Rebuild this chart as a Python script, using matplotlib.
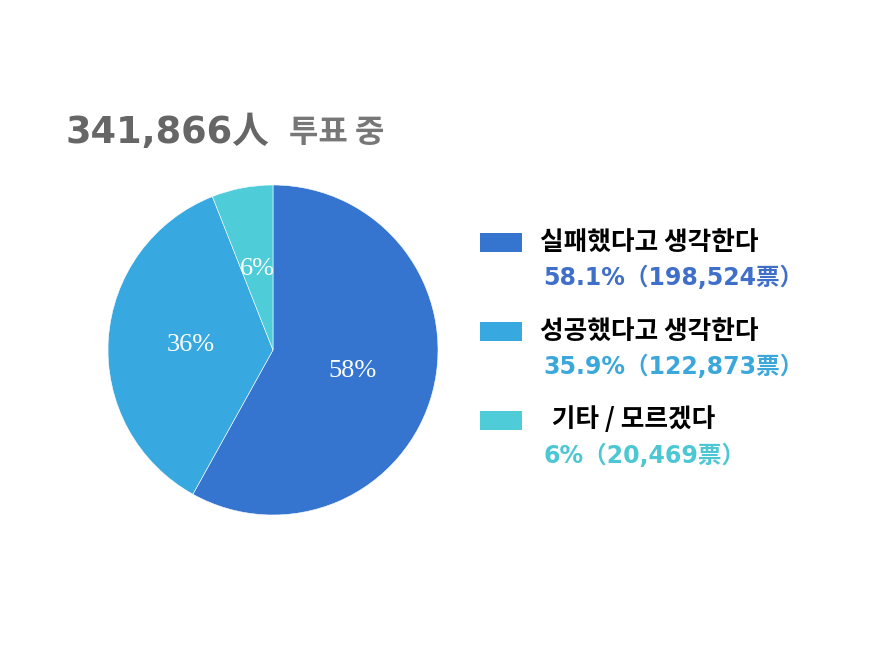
import matplotlib
matplotlib.use("Agg")
import matplotlib.pyplot as plt
from matplotlib.patches import Rectangle

# data
categories = ["실패했다고 생각한다", "성공했다고 생각한다", "  기타 / 모르겠다"]
votes = [198524, 122873, 20469]
share_text = ["58.1%", "35.9%", "6%"]
colors = ["#3575D0", "#38A8E0", "#4ECDD9"]
value_colors = ["#3F6FC8", "#3BA7DB", "#4CC7D3"]
total = 341866

LATIN_CJK = ["DejaVu Sans", "Noto Sans CJK KR"]
CJK = ["Noto Sans CJK KR", "DejaVu Sans"]

fig = plt.figure(figsize=(8.8, 6.6), dpi=100)
W, H = 880, 660


def fx(px):
    return px / W


def fy(py):
    return 1 - py / H


# pie, placed so its circle spans pixels x 108..438, y 185..515
ax = fig.add_axes([fx(108), fy(515), 330 / W, 330 / H])
wedges, texts, autotexts = ax.pie(
    votes, colors=colors, startangle=90, counterclock=False,
    autopct="%.0f%%", pctdistance=0.5,
    wedgeprops=dict(edgecolor="white", linewidth=0.4),
    textprops=dict(color="white", fontsize=19, family="Liberation Serif"))
ax.set_xlim(-1, 1)
ax.set_ylim(-1, 1)
ax.set_aspect("equal")

# title
fig.text(fx(66), fy(133), f"{total:,}人", fontsize=26.5, fontweight="bold",
         color="#666666", family=LATIN_CJK, va="center", ha="left")
fig.text(fx(289), fy(133), "투표 중", fontsize=23, fontweight="bold",
         color="#777777", family=CJK, va="center", ha="left")

# legend
row_y = [242, 331, 420]
for i, cat in enumerate(categories):
    y = row_y[i]
    fig.patches.append(Rectangle((fx(480), fy(y + 10)), 42 / W, 19 / H,
                                 transform=fig.transFigure,
                                 facecolor=colors[i], edgecolor="none"))
    fig.text(fx(540), fy(y), cat, fontsize=18.5, fontweight="bold",
             color="black", family=CJK, va="center", ha="left")
    fig.text(fx(543), fy(y + 36),
             f"{share_text[i]}（{votes[i]:,}票）", fontsize=17,
             fontweight="bold", color=value_colors[i], family=LATIN_CJK,
             va="center", ha="left")

fig.savefig("out.png", dpi=100, facecolor="white")
